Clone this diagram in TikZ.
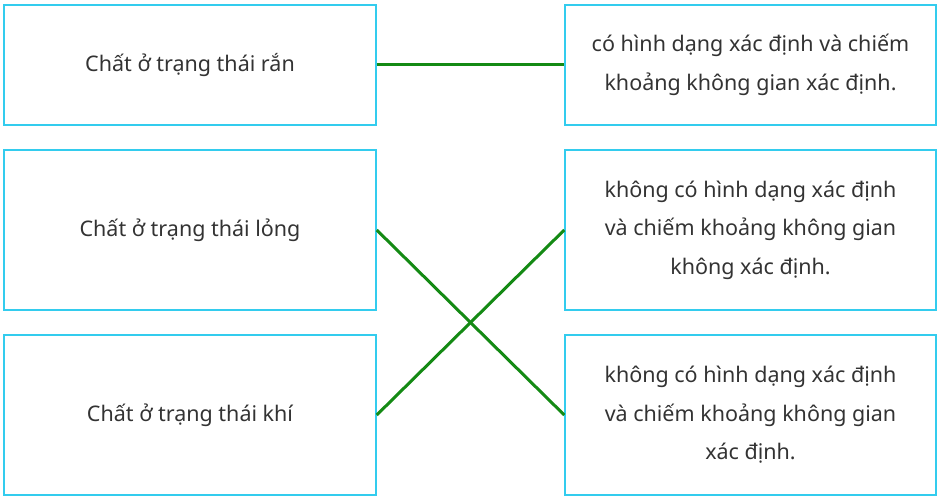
\documentclass[tikz,border=0pt]{standalone}
\usepackage{fontspec}
\setmainfont{Noto Sans}
\usepackage{tikz}
\definecolor{boxcyan}{HTML}{33CCEE}
\definecolor{linkgreen}{HTML}{148A14}
\definecolor{textgray}{HTML}{333333}
\tikzset{
  card/.style={draw=boxcyan, line width=1.5pt, minimum width=372pt, align=center,
    text=textgray, font=\fontsize{21.5}{38.5}\selectfont},
  link/.style={draw=linkgreen, line width=3pt}
}
\begin{document}
\begin{tikzpicture}[x=1pt,y=-1pt]
        % Page frame
        \useasboundingbox (0,0) rectangle (940,500);
        % Left column: states of matter
        \node[card, minimum height=120pt] (solid) at (190,65) {Chất ở trạng thái rắn};
        \node[card, minimum height=160pt] (liquid) at (190,230) {Chất ở trạng thái lỏng};
        \node[card, minimum height=160pt] (gas) at (190,415) {Chất ở trạng thái khí};
        % Right column: properties
        \node[card, minimum width=371pt, minimum height=120pt] (shapeA) at (750.5,65) {có hình dạng xác định và chiếm\\khoảng không gian xác định.};
        \node[card, minimum width=371pt, minimum height=160pt] (shapeB) at (750.5,230) {không có hình dạng xác định\\và chiếm khoảng không gian\\không xác định.};
        \node[card, minimum width=371pt, minimum height=160pt] (shapeC) at (750.5,415) {không có hình dạng xác định\\và chiếm khoảng không gian\\xác định.};
        % Matching lines
        \draw[link] (solid.east) -- (shapeA.west);
        \draw[link] (liquid.east) -- (shapeC.west);
        \draw[link] (gas.east) -- (shapeB.west);
\end{tikzpicture}
\end{document}
